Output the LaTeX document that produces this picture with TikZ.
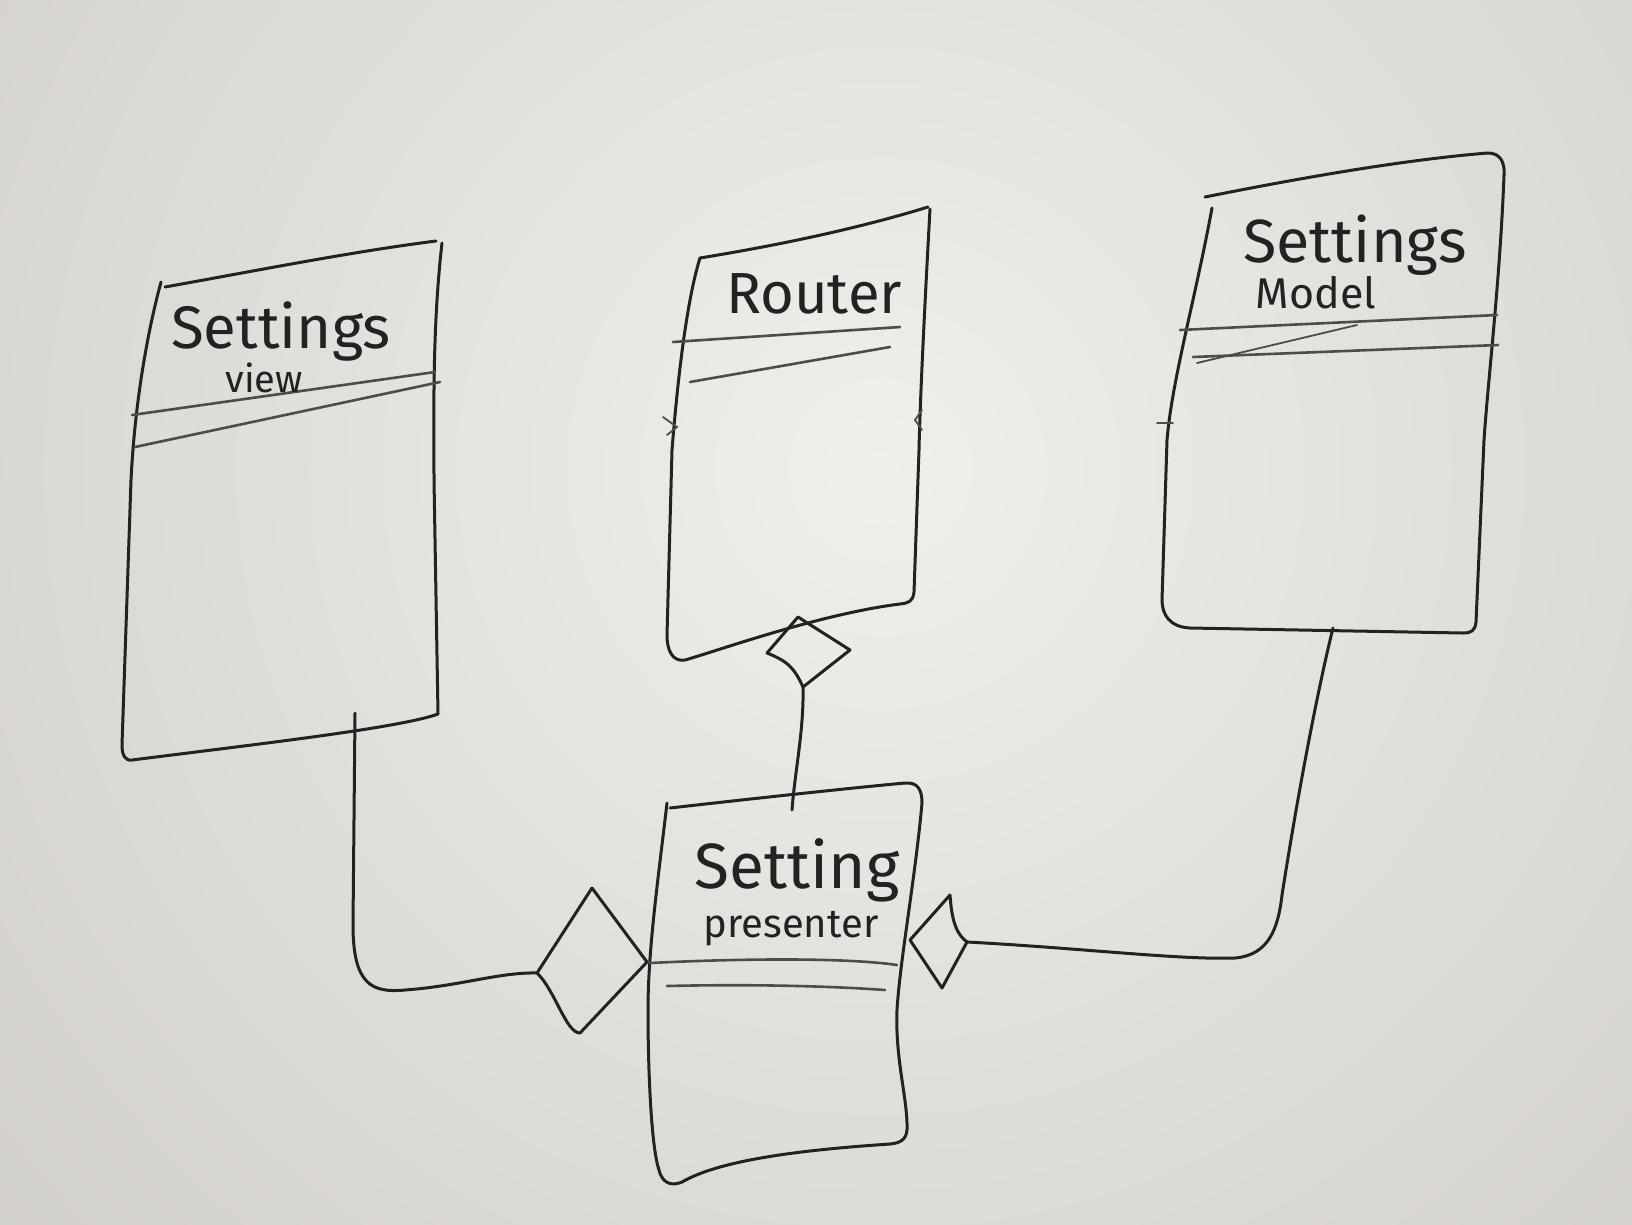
\documentclass[tikz,border=0pt]{standalone}
\usepackage{fontspec}
\setmainfont{Fira Sans}
\definecolor{ink}{RGB}{36,34,32}
\definecolor{inksoft}{RGB}{78,75,72}
\definecolor{boardout}{RGB}{204,201,197}
\definecolor{boardin}{RGB}{240,239,236}
\tikzset{
  marker/.style={draw=ink, line width=3pt, line cap=round, line join=round},
  sepline/.style={draw=inksoft, line width=2.6pt, line cap=round},
  thin mark/.style={draw=inksoft, line width=1.8pt, line cap=round},
  title/.style={text=ink, inner sep=0pt, anchor=base},
}
\newcommand{\fs}[1]{\fontsize{#1}{#1}\selectfont}
\begin{document}
\begin{tikzpicture}[x=1pt,y=-1pt]
\useasboundingbox (0,0) rectangle (1632,1224);
\fill[boardout] (0,0) rectangle (1632,1224);
\begin{scope}
  \clip (0,0) rectangle (1632,1224);
  \shade[inner color=boardin, outer color=boardout] (880,470) circle (1400);
\end{scope}

% ---------- Settings view ----------
\coordinate (svTL) at (161,282);
\coordinate (svTR) at (442,243);
\coordinate (svBR) at (438,714);
\coordinate (svC) at (355,713);
\draw[marker] (165,287) .. controls (260,270) and (350,252) .. (436,241);
\draw[marker] (svTR) .. controls (432,330) and (434,420) .. (434,480) -- (svBR)
  .. controls (400,728) and (250,745) .. (132,760)
  .. controls (125,761) and (122,755) .. (122,745)
  -- (131,480) .. controls (135,400) and (148,330) .. (svTL);
\draw[sepline] (132,415) -- (435,372);
\draw[sepline] (135,447) -- (440,382);
\node[title, font=\fs{60}] (svName) at (281,348) {Settings};
\node[title, font=\fs{38}] (svSub) at (264,392) {view};

% ---------- Router ----------
\coordinate (rtTL) at (700,258);
\coordinate (rtTR) at (930,209);
\draw[marker] (rtTL) .. controls (780,245) and (860,228) .. (928,207);
\draw[marker] (rtTR) .. controls (925,300) and (920,400) .. (919,450) -- (914,592)
  .. controls (913,602) and (908,603) .. (900,604)
  .. controls (820,614) and (720,650) .. (685,660)
  .. controls (672,662) and (667,650) .. (667,635)
  -- (672,450) .. controls (680,350) and (690,290) .. (rtTL);
\draw[sepline] (673,342) -- (900,327);
\draw[sepline] (690,382) -- (890,347);
\draw[thin mark] (663,417) -- (677,427) -- (667,435);
\draw[thin mark] (922,410) -- (915,420) -- (922,430);
\node[title, font=\fs{58}] (rtName) at (814,313) {Router};

% ---------- Settings Model ----------
\coordinate (smTL) at (1212,208);
\coordinate (smC) at (1333,628);
\draw[marker] (1205,197) .. controls (1290,180) and (1400,160) .. (1488,153)
  .. controls (1500,153) and (1505,162) .. (1504,175);
\draw[marker] (1504,175) .. controls (1500,280) and (1488,380) .. (1484,440)
  -- (1476,622) .. controls (1475,631) and (1471,633) .. (1463,633)
  -- (1190,628) .. controls (1170,627) and (1162,615) .. (1162,600)
  -- (1167,440) .. controls (1172,380) and (1195,300) .. (smTL);
\draw[sepline] (1180,330) -- (1497,315);
\draw[sepline] (1193,357) -- (1498,345);
\draw[thin mark] (1197,363) -- (1357,325);
\draw[thin mark] (1157,423) -- (1173,423);
\node[title, font=\fs{61}] (smName) at (1355,262) {Settings};
\node[title, font=\fs{43}] (smSub) at (1316,308) {Model};

% ---------- Setting presenter ----------
\coordinate (spTL) at (667,803);
\coordinate (spTop) at (792,810);
\draw[marker] (670,808) .. controls (740,800) and (850,788) .. (905,783)
  .. controls (918,782) and (922,790) .. (922,803)
  .. controls (915,880) and (900,960) .. (897,1010)
  .. controls (895,1060) and (908,1100) .. (907,1130)
  .. controls (906,1140) and (900,1143) .. (890,1144)
  .. controls (800,1150) and (720,1160) .. (682,1182)
  .. controls (670,1187) and (662,1182) .. (659,1170)
  .. controls (652,1150) and (648,1080) .. (648,1010)
  .. controls (648,950) and (658,880) .. (spTL);
\draw[sepline] (650,963) .. controls (750,958) and (850,958) .. (897,965);
\draw[sepline] (667,986) .. controls (750,984) and (830,986) .. (885,990);
\node[title, font=\fs{64}] (spName) at (797,888) {Setting};
\node[title, font=\fs{40}] (spSub) at (791,937) {presenter};

% ---------- diamond under Router ----------
\coordinate (dTt) at (798,617);
\coordinate (dTr) at (850,650);
\coordinate (dTb) at (803,687);
\coordinate (dTl) at (767,653);
\draw[marker] (dTt) -- (dTr) -- (dTb) .. controls (795,670) and (790,662) .. (dTl) -- cycle;
\draw[marker] (dTb) .. controls (804,730) and (795,770) .. (spTop);

% ---------- diamond left of presenter ----------
\coordinate (dLl) at (537,973);
\coordinate (dLt) at (592,888);
\coordinate (dLr) at (647,962);
\coordinate (dLb) at (580,1033);
\draw[marker] (dLl) -- (dLt) -- (dLr) -- (dLb)
  .. controls (566,1033) and (555,990) .. (dLl);
\draw[marker] (svC) -- (353,925) .. controls (353,985) and (372,993) .. (405,990)
  .. controls (460,986) and (500,972) .. (dLl);

% ---------- diamond right of presenter ----------
\coordinate (dRl) at (910,940);
\coordinate (dRt) at (950,895);
\coordinate (dRr) at (967,942);
\coordinate (dRb) at (942,988);
\draw[marker] (dRl) -- (dRt) .. controls (952,925) and (958,935) .. (dRr) -- (dRb) -- cycle;
\draw[marker] (dRr) .. controls (1080,948) and (1180,960) .. (1235,958)
  .. controls (1268,955) and (1278,930) .. (1282,895)
  .. controls (1300,780) and (1320,680) .. (smC);
\end{tikzpicture}
\end{document}
